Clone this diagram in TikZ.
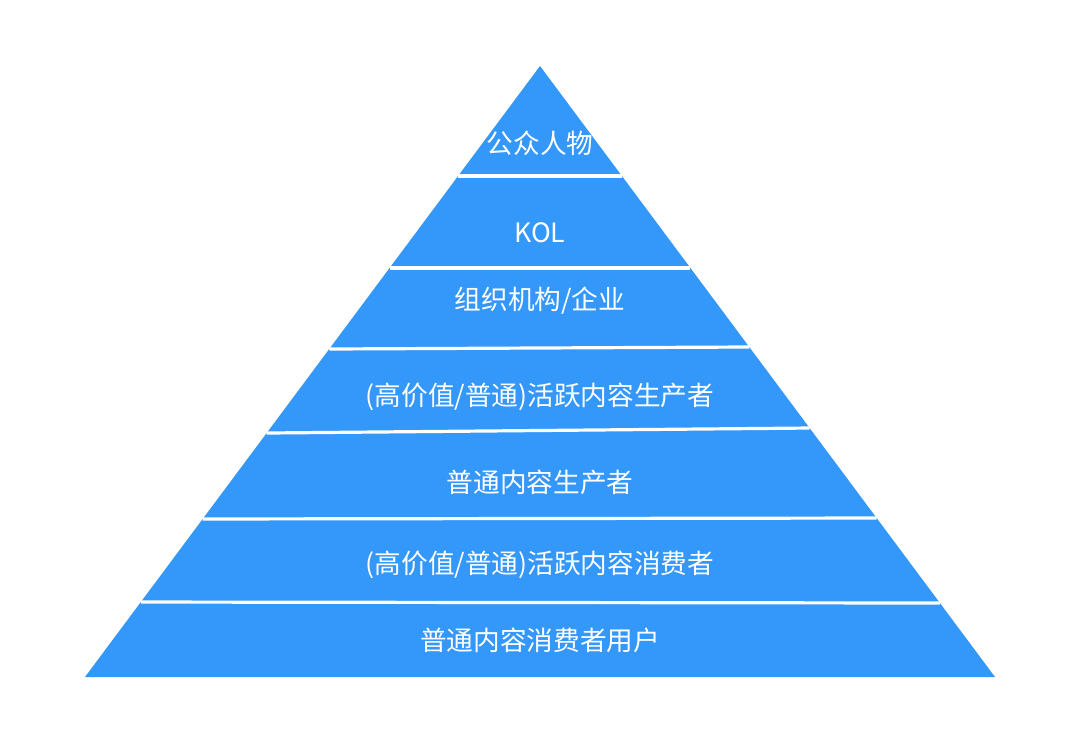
\documentclass[tikz,border=0pt]{standalone}
\usepackage{fontspec}
\usepackage{xcolor}
\usepackage{tikz}
\usetikzlibrary{calc,positioning}
\newfontfamily\cjk{Noto Sans CJK SC}
\definecolor{skyblue}{RGB}{52,151,250}

\begin{document}
\begin{tikzpicture}[x=0.75pt, y=-0.75pt,
  layertext/.style={font=\cjk\fontsize{20}{24}\selectfont, text=white, inner sep=0pt},
  sepline/.style={draw=white, line width=2.4pt}]
\useasboundingbox (0,0) rectangle (1080,748);
% pyramid outline
\coordinate (apex) at (540,66);
\coordinate (bl) at (85,677);
\coordinate (br) at (995,677);
\fill[skyblue] (apex) -- (bl) -- (br) -- cycle;
% layer separators (left/right fractions along the sides)
\foreach \i/\tl/\tr in {1/0.180/0.180, 2/0.3306/0.3306, 3/0.4632/0.4599,
                        4/0.6007/0.5925, 5/0.7414/0.7398, 6/0.8773/0.8789} {
  \coordinate (sl\i) at ($(apex)!\tl!(bl)$);
  \coordinate (sr\i) at ($(apex)!\tr!(br)$);
  \draw[sepline] (sl\i) -- (sr\i);
}
% layer labels
\node[layertext] (public) at (540,143) {公众人物};
\node[layertext] (kol) at (540,233) {KOL};
\node[layertext] (org) at (540,301) {组织机构/企业};
\node[layertext] (activeprod) at (540,397) {(高价值/普通)活跃内容生产者};
\node[layertext] (prod) at (540,482) {普通内容生产者};
\node[layertext] (activecons) at (540,565) {(高价值/普通)活跃内容消费者};
\node[layertext] (cons) at (540,640) {普通内容消费者用户};
\end{tikzpicture}
\end{document}
